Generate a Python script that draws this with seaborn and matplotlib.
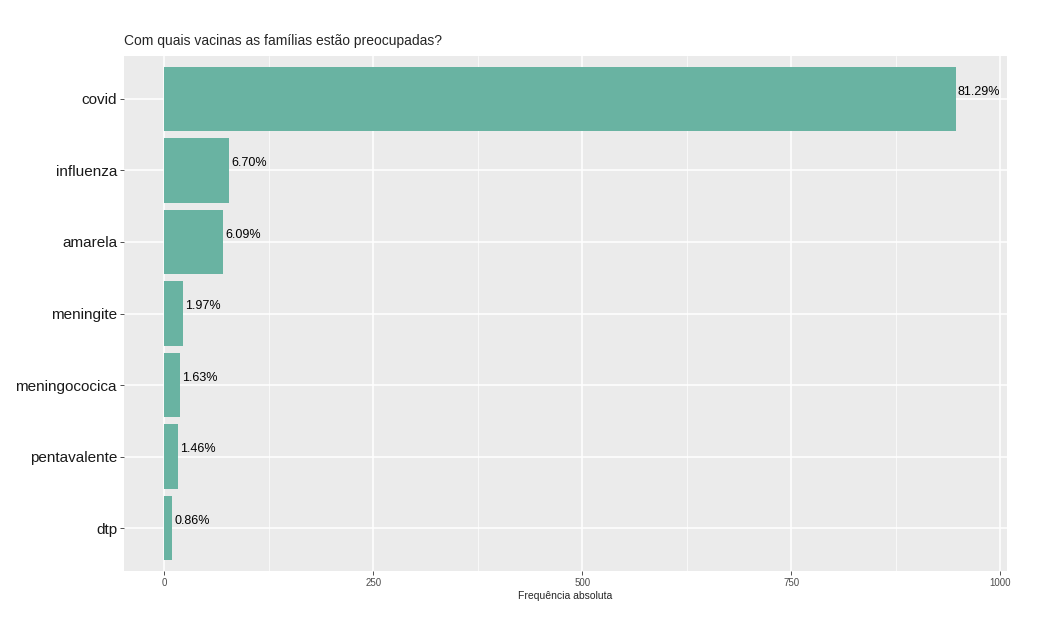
import pandas as pd
import seaborn as sns
import matplotlib.pyplot as plt
import numpy as np

vacinas = ["covid", "influenza", "amarela", "meningite", "meningococica", "pentavalente", "dtp"]
freq = [947, 78, 71, 23, 19, 17, 10]

df = pd.DataFrame({"vacina": vacinas, "freq": freq})
df["pct"] = df["freq"] / df["freq"].sum() * 100

sns.set_theme(style="darkgrid", rc={"axes.facecolor": "#EBEBEB", "grid.color": "white"})
plt.rcParams['font.family'] = ['Liberation Sans', 'DejaVu Sans']

fig = plt.figure(figsize=(10.48, 6.4), dpi=100)
ax = fig.add_axes([0.1183, 0.1078, 0.8426, 0.8047])

sns.barplot(data=df, x="freq", y="vacina", color="#69B3A2", saturation=1, width=0.9,
	linewidth=0, edgecolor="none", ax=ax, zorder=3)

for i, (f, p) in enumerate(zip(df["freq"], df["pct"])):
	ax.text(f + 2, i - 0.1, f"{p:.2f}%", fontsize=9, va="center", ha="left", color="black", zorder=4)

ax.set_xlim(-48, 1008)
ax.set_ylim(6.6, -0.6)
ax.set_xticks([0, 250, 500, 750, 1000])
ax.set_xticks([125, 375, 625, 875], minor=True)
ax.grid(True, which="major", color="white", linewidth=1.1)
ax.grid(True, which="minor", axis="x", color="white", linewidth=0.5)
ax.grid(False, which="major", axis="y")
ax.set_axisbelow(True)
for i in range(len(vacinas)):
	ax.axhline(i, color="white", linewidth=1.1, zorder=0)
for s in ax.spines.values():
	s.set_visible(False)

ax.tick_params(axis="x", labelsize=7, length=3, width=0.6, color="#333333", bottom=True, pad=2, labelcolor="#4D4D4D")
ax.tick_params(axis="y", labelsize=11, length=3, width=0.6, color="#333333", left=True, pad=2, labelcolor="#1A1A1A")
ax.set_xlabel("Frequência absoluta", fontsize=7.5, labelpad=2)
ax.set_ylabel("")
ax.set_title("Com quais vacinas as famílias estão preocupadas?", fontsize=10, loc="left", pad=8)

plt.savefig("out.png", dpi=100)
